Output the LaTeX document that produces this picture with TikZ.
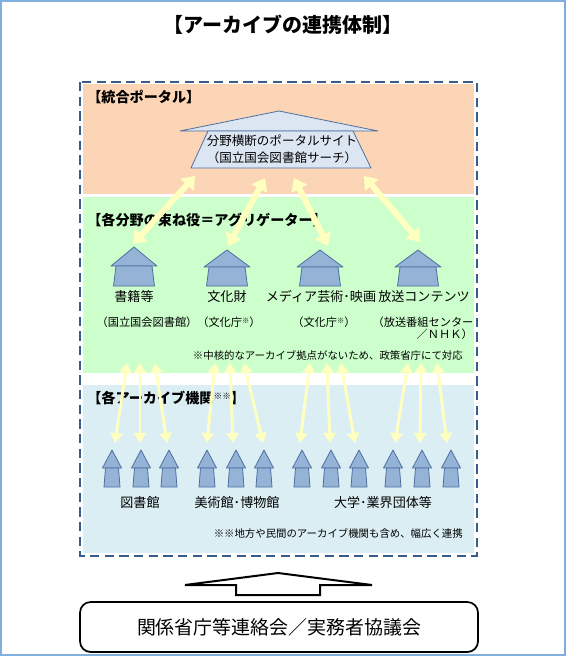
\documentclass[tikz,border=0pt]{standalone}
\usepackage{fontspec}
\setmainfont{Noto Sans CJK JP}
\usetikzlibrary{arrows.meta}
\definecolor{portalbg}{HTML}{FBD5B5}
\definecolor{aggbg}{HTML}{CCFFCC}
\definecolor{archbg}{HTML}{DBEEF4}
\definecolor{dashc}{HTML}{385D8A}
\definecolor{houseF}{HTML}{95B3D7}
\definecolor{houseD}{HTML}{4F6FA0}
\definecolor{portalF}{HTML}{DCE6F2}
\definecolor{yel}{HTML}{FFFFC0}
\definecolor{frameC}{HTML}{7FAEDF}
\begin{document}
\begin{tikzpicture}[x=0.75pt,y=-0.75pt,
  heading/.style={font=\bfseries\fontsize{10.6}{12}\selectfont, anchor=west, inner sep=0pt},
  lbl/.style={font=\fontsize{9.8}{11}\selectfont, inner sep=0pt},
  sublbl/.style={font=\fontsize{8.4}{9}\selectfont, inner sep=0pt},
  note/.style={font=\fontsize{7.8}{9}\selectfont, inner sep=0pt, anchor=east},
  housestyle/.style={fill=houseF, draw=houseD, line width=0.6pt, line join=round},
  bigyarrow/.style={draw=yel, line width=4.5pt, {Triangle[width=13pt,length=9pt]}-{Triangle[width=13pt,length=9pt]}},
  smallyarrow/.style={draw=yel, line width=2.2pt, {Triangle[width=9pt,length=7.5pt]}-{Triangle[width=9pt,length=7.5pt]}}
]
\useasboundingbox (0,0) rectangle (566,656);
\fill[white] (0,0) rectangle (566,656);
\draw[frameC, line width=1.5pt] (1,1) rectangle (565,655);

% title
\node[font=\bfseries\fontsize{15}{17}\selectfont] (title) at (283,25) {【アーカイブの連携体制】};

% background bands
\fill[portalbg] (83,84) rectangle (474,194);
\fill[aggbg] (83,197) rectangle (474,373);
\fill[archbg] (83,385) rectangle (474,553);
\draw[dashc, line width=1.6pt, dash pattern=on 7pt off 4pt] (80,82) rectangle (477,556);

% section headings
\node[heading] (h1) at (87,97) {【統合ポータル】};
\node[heading] (h2) at (87,220) {【各分野の束ね役＝アグリゲーター】};
\node[heading] (h3) at (87,398) {【各アーカイブ機関\raisebox{0.5ex}{\fontsize{6.5}{6}\selectfont ※※}】};

% portal house
\path[fill=portalF, draw=houseD, line width=0.6pt, line join=round]
  (180,131) -- (279,111) -- (378,131) -- cycle;
\path[fill=portalF, draw=houseD, line width=0.6pt, line join=round]
  (208,131) -- (353,131) -- (371,168) -- (191,168) -- cycle;
\node[lbl, font=\fontsize{9.4}{11}\selectfont] (portal1) at (282,141) {分野横断のポータルサイト};
\node[lbl, font=\fontsize{9.4}{11}\selectfont] (portal2) at (282,158) {（国立国会図書館サーチ）};
\coordinate (P1) at (195,176);
\coordinate (P2) at (265,178);
\coordinate (P3) at (294,178);
\coordinate (P4) at (364,176);

% aggregator houses
\foreach \cx/\ap/\rb [count=\i] in {134/247/266, 227/250/267, 320/250/267, 418/250/267}{
  \path[housestyle] (\cx-23,\rb) -- (\cx,\ap) -- (\cx+23,\rb) -- cycle;
  \path[housestyle] (\cx-18,\rb) -- (\cx+18,\rb) -- (\cx+20.5,286) -- (\cx-20.5,286) -- cycle;
}
\coordinate (A1) at (133,244);
\coordinate (A2) at (228,246);
\coordinate (A3) at (328,246);
\coordinate (A4) at (420,242);

% upper arrows
\foreach \a/\b in {P1/A1,P2/A2,P3/A3,P4/A4}{
  \draw[bigyarrow] (\a) -- (\b);
}

% aggregator labels
\node[lbl] (g1) at (134,297) {書籍等};
\node[lbl] (g2) at (227,297) {文化財};
\node[lbl] (g3) at (321,297) {メディア芸術･映画};
\node[lbl] (g4) at (424,297) {放送コンテンツ};
\node[sublbl] (s1) at (147,322) {（国立国会図書館）};
\node[sublbl] (s2) at (229,322) {（文化庁\raisebox{0.5ex}{\fontsize{5.5}{6}\selectfont ※}）};
\node[sublbl] (s3) at (324,322) {（文化庁\raisebox{0.5ex}{\fontsize{5.5}{6}\selectfont ※}）};
\node[sublbl] (s4) at (423,322) {（放送番組センター};
\node[sublbl, anchor=east] (s4b) at (473,334) {／ＮＨＫ）};
\node[note] (n1) at (463,355) {※中核的なアーカイブ拠点がないため、政策省庁にて対応};

% archive arrows (shapes)
\foreach \cx [count=\i] in {112,141,169,207,236,264,302,331,359,393,422,451}{
  \path[housestyle] (\cx-9.5,468) -- (\cx,450) -- (\cx+9.5,468) -- cycle;
  \path[housestyle] (\cx-6.5,468) -- (\cx+6.5,468) -- (\cx+8,487) -- (\cx-8,487) -- cycle;
}

% lower double arrows
\foreach \tx/\bx [count=\i] in {127/115,140/140,155/167, 215/207,230/233,244/263, 310/300,327/330,341/355, 408/395,421/420,437/447}{
  \coordinate (T\i) at (\tx,363);
  \coordinate (B\i) at (\bx,443);
  \draw[smallyarrow] (T\i) -- (B\i);
}

% archive labels
\node[lbl] (r1) at (140,503) {図書館};
\node[lbl] (r2) at (237,503) {美術館･博物館};
\node[lbl] (r3) at (383,503) {大学･業界団体等};
\node[note] (n2) at (463,533) {※※地方や民間のアーカイブ機関も含め、幅広く連携};

% big outline arrow
\draw[black, line width=1.5pt, fill=white, line join=miter]
  (185,585) -- (278,573) -- (372,585) -- (320,585) -- (320,595) -- (236,595) -- (236,585) -- cycle;

% bottom box
\node[draw=black, line width=1.3pt, rounded corners=8pt, minimum width=398*0.75pt, minimum height=50*0.75pt,
  font=\fontsize{14.2}{16}\selectfont] (council) at (279,627) {関係省庁等連絡会／実務者協議会};
\end{tikzpicture}
\end{document}
